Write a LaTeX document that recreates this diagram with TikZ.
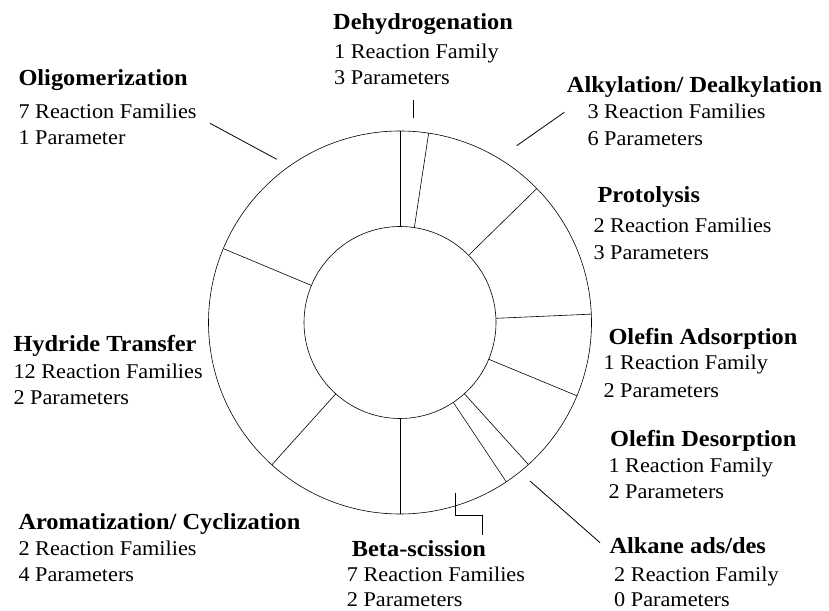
\documentclass[tikz,border=0pt]{standalone}
\usepackage{fontspec}
\setmainfont[FakeStretch=1.06]{Liberation Serif}
\usetikzlibrary{calc}

\tikzset{
  title/.style={anchor=base west,inner sep=0pt,font=\bfseries\fontsize{23}{27}\selectfont},
  info/.style={anchor=base west,inner sep=0pt,font=\fontsize{21}{25}\selectfont},
  ring/.style={line width=0.6pt},
  leader/.style={line width=0.8pt}
}

\begin{document}
\begin{tikzpicture}[x=1pt,y=1pt]
		\useasboundingbox (0,0) rectangle (829,610);
		% centre of the ring
		\coordinate (O) at(400,287.5);
		
		% ring of reaction classes
		\draw[ring] (O) circle(191.5);
		\draw[ring] (O) circle(96);
		\foreach \a in {90,81.4,44.4,2.5,-22.5,-47.9,-56.3,-90,-132,157.3}
			\draw[ring] ([shift={(\a:96)}]O)--([shift={(\a:191.5)}]O);
		
		% leader lines
		\coordinate (D1) at(413.3,510);
		\coordinate (D2) at(413.3,491.7);
		\coordinate (K1) at(516.7,464.3);
		\coordinate (K2) at(564.3,497.7);
		\coordinate (G1) at(210,486.7);
		\coordinate (G2) at(276.7,450.7);
		\coordinate (B1) at(455,116.7);
		\coordinate (B2) at(482.3,75);
		\coordinate (L1) at(530,129);
		\coordinate (L2) at(600,67.3);
		\draw[leader] (D1)--(D2);
		\draw[leader] (K1)--(K2);
		\draw[leader] (G1)--(G2);
		\draw[leader] (B1)--(455,95)-|(B2);
		\draw[leader] (L1)--(L2);
		
		% labels
		\node[title] (dehy) at(333,580){Dehydrogenation};
		\node[info] (dehy1) at(334,551.7){1 Reaction Family};
		\node[info] (dehy2) at(334,525){3 Parameters};
		
		\node[title] (oligo) at(18.3,524){Oligomerization};
		\node[info] (oligo1) at(18.3,491.7){7 Reaction Families};
		\node[info] (oligo2) at(18.3,465){1 Parameter};
		
		\node[title] (alky) at(566.7,517.3){Alkylation/ Dealkylation};
		\node[info] (alky1) at(587.3,491.7){3 Reaction Families};
		\node[info] (alky2) at(587.3,464.3){6 Parameters};
		
		\node[title] (proto) at(597.3,407.3){Protolysis};
		\node[info] (proto1) at(593.3,377.3){2 Reaction Families};
		\node[info] (proto2) at(593.3,350){3 Parameters};
		
		\node[title] (oads) at(608.3,265){Olefin Adsorption};
		\node[info] (oads1) at(603.3,240){1 Reaction Family};
		\node[info] (oads2) at(603.3,212.7){2 Parameters};
		
		\node[title] (odes) at(610,163.3){Olefin Desorption};
		\node[info] (odes1) at(608.3,137.3){1 Reaction Family};
		\node[info] (odes2) at(608.3,111.7){2 Parameters};
		
		\node[title] (alka) at(609.3,56.7){Alkane ads/des};
		\node[info] (alka1) at(614,28.3){2 Reaction Family};
		\node[info] (alka2) at(614,3.5){0 Parameters};
		
		\node[title] (beta) at(351.7,53.3){Beta-scission};
		\node[info] (beta1) at(346.7,28.3){7 Reaction Families};
		\node[info] (beta2) at(346.7,3.5){2 Parameters};
		
		\node[title] (arom) at(18.3,80){Aromatization/ Cyclization};
		\node[info] (arom1) at(18.3,55){2 Reaction Families};
		\node[info] (arom2) at(18.3,28.3){4 Parameters};
		
		\node[title] (hydr) at(13.3,258.3){Hydride Transfer};
		\node[info] (hydr1) at(13.3,231.7){12 Reaction Families};
		\node[info] (hydr2) at(13.3,205){2 Parameters};
		
	\end{tikzpicture}
\end{document}
